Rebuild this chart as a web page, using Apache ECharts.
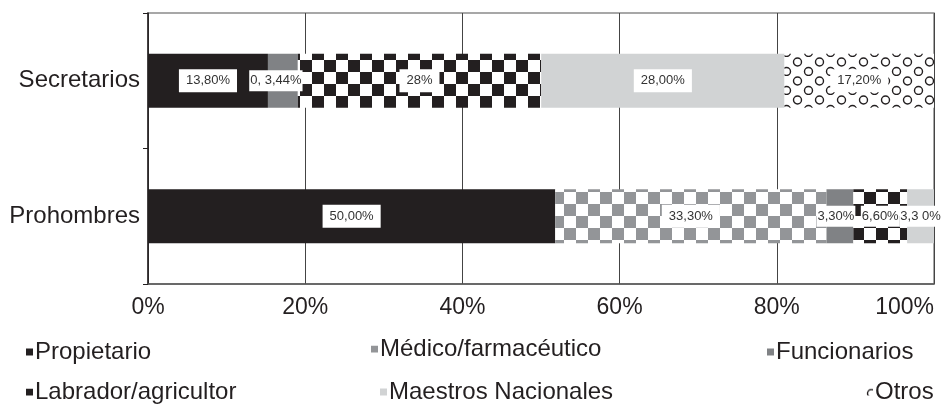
<!DOCTYPE html>
<html><head><meta charset="utf-8">
<script src="https://cdn.jsdelivr.net/npm/echarts@6/dist/echarts.min.js"></script>
<style>html,body{margin:0;padding:0;background:#fff}#c{width:943px;height:406px}</style>
</head><body><div id="c"></div>
<script>
const categories = ['Secretarios', 'Prohombres'];
const seriesNames = ['Propietario', 'Médico/farmacéutico', 'Funcionarios', 'Labrador/agricultor', 'Maestros Nacionales', 'Otros'];
const propietario = [13.8, 50];
const medico = [0, 33.3];
const funcionarios = [3.44, 3.3];
const labrador = [28, 6.6];
const maestros = [28, 3.3];
const otros = [17.2, 0];
const labelsPropietario = ['13,80%', '50,00%'];
const labelsMedico = ['', '33,30%'];
const labelsFuncionarios = ['0, 3,44%', '3,30%'];
const labelsLabrador = ['28%', '6,60%'];
const labelsMaestros = ['28,00%', '3,3 0%'];
const labelsOtros = ['17,20%', ''];
const xTicks = ['0%', '20%', '40%', '60%', '80%', '100%'];

const allValues = [propietario, medico, funcionarios, labrador, maestros, otros];
const allLabels = [labelsPropietario, labelsMedico, labelsFuncionarios, labelsLabrador, labelsMaestros, labelsOtros];
const totals = categories.map((c, i) => allValues.reduce((s, arr) => s + arr[i], 0));

function checker(col, size) {
  const cv = document.createElement('canvas');
  cv.width = cv.height = size * 2;
  const ctx = cv.getContext('2d');
  ctx.fillStyle = '#fff'; ctx.fillRect(0, 0, size * 2, size * 2);
  ctx.fillStyle = col;
  ctx.fillRect(0, 0, size, size);
  ctx.fillRect(size, size, size, size);
  return { image: cv, repeat: 'repeat' };
}
function circles() {
  const cv = document.createElement('canvas');
  cv.width = 22; cv.height = 19;
  const ctx = cv.getContext('2d');
  ctx.fillStyle = '#fff'; ctx.fillRect(0, 0, 22, 19);
  ctx.strokeStyle = '#231f20'; ctx.lineWidth = 1.4;
  ctx.beginPath(); ctx.arc(5.5, 5, 4, 0, Math.PI * 2); ctx.stroke();
  ctx.beginPath(); ctx.arc(16.5, 14.5, 4, 0, Math.PI * 2); ctx.stroke();
  return { image: cv, repeat: 'repeat' };
}
const fills = [
  '#231f20',
  checker('#939598', 12),
  '#808285',
  checker('#231f20', 12),
  '#d1d3d4',
  circles()
];
const labelOffsets = [[0, 0], [0, 0], [[-7, 0], [-4, 0]], [0, 0], [0, 0], [0, 0]];

const series = seriesNames.map((name, si) => ({
  name: name,
  type: 'bar',
  stack: 'total',
  barWidth: 54,
  itemStyle: { color: fills[si] },
  data: allValues[si].map((v, ci) => {
    const pct = v / totals[ci] * 100;
    const txt = allLabels[si][ci];
    const off = Array.isArray(labelOffsets[si][0]) ? labelOffsets[si][ci] : labelOffsets[si];
    return {
      value: pct,
      label: {
        show: txt !== '',
        position: 'inside',
        formatter: txt,
        offset: off,
        backgroundColor: '#fff',
        padding: pct < 8 ? [4, 1] : [5, 7],
        color: '#333',
        fontSize: 13,
        fontFamily: 'Liberation Sans, Arial, sans-serif'
      }
    };
  })
}));

const legendPos = [
  { left: 26, top: 340 }, { left: 371, top: 337 }, { left: 767, top: 340 },
  { left: 26, top: 380 }, { left: 380, top: 380 }, { left: 866, top: 380 }
];
const legends = seriesNames.map((n, i) => ({
  data: [n],
  left: legendPos[i].left,
  top: legendPos[i].top,
  padding: 0,
  itemWidth: 7,
  itemHeight: 7,
  icon: 'rect',
  selectedMode: false,
  textStyle: { fontSize: 24, color: '#231f20', fontFamily: 'Liberation Sans, Arial, sans-serif', padding: [0, 0, 0, -3] }
}));

const chart = echarts.init(document.getElementById('c'), null, { renderer: 'canvas' });
chart.setOption({
  animation: false,
  backgroundColor: '#fff',
  textStyle: { fontFamily: 'Liberation Sans, Arial, sans-serif' },
  grid: { left: 148, right: 9, top: 13, bottom: 122, show: true, borderColor: '#8a8a8a', borderWidth: 1.5, outerBoundsMode: 'none', containLabel: false },
  legend: legends,
  xAxis: {
    type: 'value', min: 0, max: 100, interval: 20,
    axisLabel: { formatter: v => xTicks[Math.round(v / 20)], fontSize: 23, color: '#231f20', margin: 12, alignMaxLabel: 'right' },
    axisLine: { show: true, lineStyle: { color: '#555', width: 1.5 } },
    axisTick: { show: false },
    splitLine: { show: true, lineStyle: { color: '#444', width: 1 } }
  },
  yAxis: {
    type: 'category', data: categories, inverse: true,
    axisLabel: { fontSize: 24, color: '#231f20', margin: 8 },
    axisLine: { show: true, lineStyle: { color: '#231f20', width: 1.5 } },
    axisTick: { show: true, length: 5, lineStyle: { color: '#231f20' } }
  },
  series: series
});
</script>
</body></html>
